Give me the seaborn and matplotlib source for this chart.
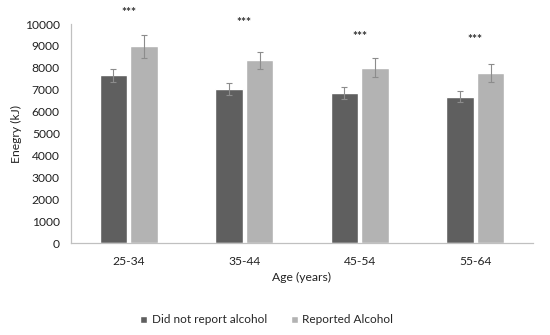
import matplotlib
matplotlib.use("Agg")
import matplotlib.pyplot as plt
import seaborn as sns
import pandas as pd

ages = ["25-34", "35-44", "45-54", "55-64"]
groups = ["Did not report alcohol", "Reported Alcohol"]
no_alcohol = [7650, 7030, 6850, 6680]
no_alcohol_err = [280, 270, 260, 260]
alcohol = [8980, 8340, 8010, 7760]
alcohol_err = [520, 400, 430, 430]
sig_height = [10520, 10060, 9450, 9300]
sig_label = ["***", "***", "***", "***"]

sns.set_theme(style="white")
plt.rcParams['font.family'] = ['Lato', 'DejaVu Sans']

df = pd.DataFrame({
    "Age": ages * 2,
    "Group": [groups[0]] * 4 + [groups[1]] * 4,
    "Energy": no_alcohol + alcohol,
})
errs = no_alcohol_err + alcohol_err

fig = plt.figure(figsize=(5.5, 3.35), dpi=100)
ax = fig.add_axes([0.129, 0.2746, 0.84, 0.6537])
sns.barplot(data=df, x="Age", y="Energy", hue="Group", order=ages, hue_order=groups,
            palette=["#5f5f5f", "#b3b3b3"], width=0.53, gap=0.1, errorbar=None,
            saturation=1, ax=ax, legend=True)

patches = [p for p in ax.patches if p.get_height() > 0][:8]
for p, e in zip(patches, errs):
    cx = p.get_x() + p.get_width() / 2
    ax.errorbar(cx, p.get_height(), yerr=e, fmt="none", ecolor="#8c8c8c",
                elinewidth=0.8, capsize=2, capthick=0.8)

for i, (h, s) in enumerate(zip(sig_height, sig_label)):
    ax.text(i, h, s, ha="center", va="center", fontsize=8.5, fontweight="bold",
            color="#333333", clip_on=False)

ax.set_ylim(0, 10000)
ax.set_yticks(range(0, 10001, 1000))
ax.set_xlim(-0.5, 3.5)
ax.tick_params(axis="both", length=0, labelsize=8.7, colors="#222222")
ax.tick_params(axis="y", pad=8)
ax.tick_params(axis="x", pad=9)
ax.set_xlabel("Age (years)", fontsize=8.7, color="#222222", labelpad=4)
ax.set_ylabel("Enegry (kJ)", fontsize=8.7, color="#222222", labelpad=2)
for s in ["top", "right"]:
    ax.spines[s].set_visible(False)
for s in ["left", "bottom"]:
    ax.spines[s].set_color("#c0c0c0")
    ax.spines[s].set_linewidth(0.9)

handles, labels = ax.get_legend_handles_labels()
ax.get_legend().remove()
fig.legend(handles, labels, loc="center", bbox_to_anchor=(0.485, 0.045), ncol=2,
           frameon=False, fontsize=8.5, handlelength=0.6, handleheight=0.6,
           handletextpad=0.4, columnspacing=2.0)

fig.savefig("out.png", dpi=100)
